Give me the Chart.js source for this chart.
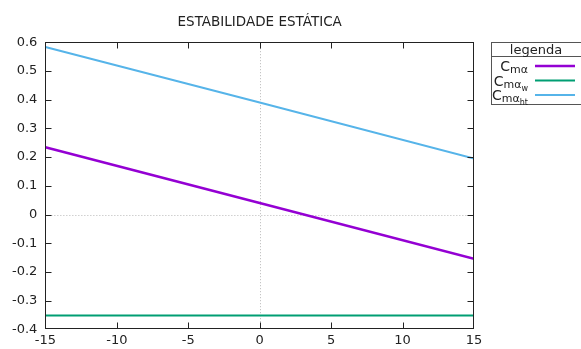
<!DOCTYPE html>
<html>
<head>
<meta charset="utf-8">
<script src="https://cdn.jsdelivr.net/npm/chart.js@4"></script>
<style>
  html, body { margin: 0; padding: 0; background: #fff; }
  #wrap { width: 581px; height: 349px; }
</style>
</head>
<body>
<div id="wrap"><canvas id="chartStab"></canvas></div>
<script>
const alphaDeg = [-15, 0, 15];
const cmAlpha = [0.234, 0.040, -0.154];
const cmAlphaW = [-0.352, -0.352, -0.352];
const cmAlphaHt = [0.583, 0.390, 0.195];
const xTicks = [-15, -10, -5, 0, 5, 10, 15];
const yTicks = [-0.4, -0.3, -0.2, -0.1, 0, 0.1, 0.2, 0.3, 0.4, 0.5, 0.6];

const legendTitle = 'legenda';
const legendItems = [
    { base: 'C', sub: 'mα', subsub: '', color: '#9400d3', width: 2.5 },
    { base: 'C', sub: 'mα', subsub: 'w', color: '#009e73', width: 2 },
    { base: 'C', sub: 'mα', subsub: 'ht', color: '#56b4e9', width: 2 }
];

const FONT = "'DejaVu Sans', sans-serif";

function pts(ys) {
    return alphaDeg.map((x, i) => ({ x: x, y: ys[i] }));
}

// gnuplot-like frame, inward ticks, zero axes and key box
const gnuplotLook = {
    id: 'gnuplotLook',
    beforeDatasetsDraw(chart) {
        const { ctx, chartArea: a, scales } = chart;
        ctx.save();
        ctx.strokeStyle = '#b8b8b8';
        ctx.lineWidth = 1;
        ctx.setLineDash([1, 2]);
        const x0 = Math.round(scales.x.getPixelForValue(0)) + 0.5;
        const y0 = Math.round(scales.y.getPixelForValue(0)) + 0.5;
        ctx.beginPath();
        ctx.moveTo(x0, a.top); ctx.lineTo(x0, a.bottom);
        ctx.moveTo(a.left, y0); ctx.lineTo(a.right, y0);
        ctx.stroke();
        ctx.restore();
    },
    afterDraw(chart) {
        const { ctx, chartArea: a, scales } = chart;
        ctx.save();
        ctx.strokeStyle = '#222';
        ctx.lineWidth = 1;
        const L = Math.round(a.left) + 0.5, R = Math.round(a.right) - 0.5;
        const T = Math.round(a.top) + 0.5, B = Math.round(a.bottom) - 0.5;
        const clamp = (v, lo, hi) => Math.min(hi, Math.max(lo, v));
        ctx.strokeRect(L, T, R - L, B - T);
        ctx.beginPath();
        xTicks.forEach(v => {
            const px = clamp(Math.round(scales.x.getPixelForValue(v)) + 0.5, L, R);
            ctx.moveTo(px, B); ctx.lineTo(px, B - 6);
            ctx.moveTo(px, T); ctx.lineTo(px, T + 6);
        });
        yTicks.forEach(v => {
            const py = clamp(Math.round(scales.y.getPixelForValue(v)) + 0.5, T, B);
            ctx.moveTo(L, py); ctx.lineTo(L + 6, py);
            ctx.moveTo(R, py); ctx.lineTo(R - 6, py);
        });
        ctx.stroke();

        // key box
        const kx = 491.5, ky = 42.5, kw = 100, kh = 62;
        ctx.strokeStyle = '#555';
        ctx.strokeRect(kx, ky, kw, kh);
        ctx.beginPath();
        ctx.moveTo(kx, 56.5); ctx.lineTo(kx + kw, 56.5);
        ctx.stroke();

        ctx.fillStyle = '#222';
        ctx.textBaseline = 'alphabetic';
        ctx.textAlign = 'center';
        ctx.font = '13px ' + FONT;
        ctx.fillText(legendTitle, 536, 54);

        ctx.textAlign = 'left';
        legendItems.forEach((it, i) => {
            const base = 71 + i * 14.5;
            ctx.font = '14px ' + FONT;
            const wb = ctx.measureText(it.base).width;
            ctx.font = '11px ' + FONT;
            const ws = ctx.measureText(it.sub).width;
            ctx.font = '8px ' + FONT;
            const wss = ctx.measureText(it.subsub).width;
            let x = 528 - (wb + ws + wss);
            ctx.font = '14px ' + FONT;
            ctx.fillText(it.base, x, base);
            x += wb;
            ctx.font = '11px ' + FONT;
            ctx.fillText(it.sub, x, base + 2);
            x += ws;
            if (it.subsub) {
                ctx.font = '8px ' + FONT;
                ctx.fillText(it.subsub, x, base + 5);
            }
            ctx.strokeStyle = it.color;
            ctx.lineWidth = it.width;
            ctx.beginPath();
            ctx.moveTo(535, base - 5); ctx.lineTo(575, base - 5);
            ctx.stroke();
        });
        ctx.restore();
    }
};

const ctxStab = document.getElementById('chartStab').getContext('2d');
new Chart(ctxStab, {
    type: 'line',
    data: {
        datasets: [
            { label: 'Cmα', data: pts(cmAlpha), borderColor: '#9400d3', borderWidth: 2.5, pointRadius: 0 },
            { label: 'Cmαw', data: pts(cmAlphaW), borderColor: '#009e73', borderWidth: 2, pointRadius: 0 },
            { label: 'Cmαht', data: pts(cmAlphaHt), borderColor: '#56b4e9', borderWidth: 2, pointRadius: 0 }
        ]
    },
    options: {
        responsive: true,
        maintainAspectRatio: false,
        animation: false,
        layout: { padding: { left: 4, right: 107, top: 0, bottom: -2 } },
        plugins: {
            legend: { display: false },
            tooltip: { enabled: false },
            title: {
                display: true,
                fullSize: false,
                text: 'ESTABILIDADE ESTÁTICA',
                color: '#222',
                font: { family: FONT, size: 13.5, weight: 'normal' },
                padding: { top: 14, bottom: 12 }
            }
        },
        scales: {
            x: {
                type: 'linear',
                min: -15,
                max: 15,
                grid: { display: false, drawTicks: false },
                border: { display: false },
                afterBuildTicks: s => { s.ticks = xTicks.map(v => ({ value: v })); },
                ticks: {
                    color: '#222',
                    padding: 3,
                    maxRotation: 0,
                    font: { family: FONT, size: 13 }
                }
            },
            y: {
                min: -0.4,
                max: 0.6,
                grid: { display: false, drawTicks: false },
                border: { display: false },
                afterBuildTicks: s => { s.ticks = yTicks.map(v => ({ value: v })); },
                ticks: {
                    color: '#222',
                    padding: 8,
                    font: { family: FONT, size: 13 },
                    callback: v => {
                        const r = Math.round(v * 10) / 10;
                        return r === 0 ? '0' : r.toFixed(1);
                    }
                }
            }
        }
    },
    plugins: [gnuplotLook]
});
</script>
</body>
</html>
